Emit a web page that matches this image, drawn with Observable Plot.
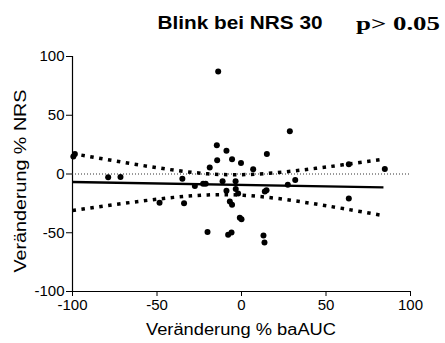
<!DOCTYPE html>
<html>
<head>
<meta charset="utf-8">
<script src="https://cdn.jsdelivr.net/npm/d3@7"></script>
<script src="https://cdn.jsdelivr.net/npm/@observablehq/plot@0.6"></script>
<style>
  html, body { margin: 0; padding: 0; background: #fff; }
  #chart { width: 445px; height: 343px; }
</style>
</head>
<body>
<div id="chart"></div>
<script>
// Scatter data: change in baAUC (%) vs change in NRS (%)
const xValues = [-99.5, -98.6, -78.9, -71.6, -48.5, -34.0, -35.0, -27.6, -22.7, -21.2,
  -20.1, -18.8, -14.6, -14.4, -13.8, -11.2, -8.9, -8.9, -7.9, -6.9,
  -5.9, -5.6, -5.6, -3.5, -3.4, -2.0, -1.0, 0.0, -0.3, 6.9,
  13.0, 13.6, 13.8, 14.8, 15.0, 27.4, 28.6, 31.8, 63.5, 63.5, 84.8];
const yValues = [15, 17, -2.8, -2.5, -24.5, -24.8, -4.1, -10.3, -8.2, -8.2,
  -49.3, 5.5, 24.5, 11.7, 87.2, -6.2, 19.7, -14.2, -51.8, -23.3,
  -49.8, 12.6, -26.2, -6.2, -12.8, -16.5, -37.2, -38.5, 9.4, 4.0,
  -52.4, -58.4, -14.8, -13.9, 17.1, -9.1, 36.4, -5.0, 8.2, -20.8, 4.3];

// Regression line
const fitX = [-100, 84];
const fitY = [-6.8, -11.4];

// 95% confidence band
const bandX = [-100, -80, -60, -40, -20, 0, 20, 40, 60, 84];
const bandUpper = [17.4, 12.4, 7.6, 3.3, 0.2, -0.6, 1.0, 4.1, 7.8, 12.5];
const bandLower = [-31.0, -27.0, -23.2, -19.9, -17.8, -18.0, -20.6, -24.7, -29.4, -35.4];

const tickValues = [-100, -50, 0, 50, 100];
const titleText = "Blink bei NRS 30";
const pText = "p> 0.05";
const xLabel = "Veränderung % baAUC";
const yLabel = "Veränderung % NRS";

const points = xValues.map((x, i) => ({x, y: yValues[i]}));
const fit = fitX.map((x, i) => ({x, y: fitY[i]}));
const upper = bandX.map((x, i) => ({x, y: bandUpper[i]}));
const lower = bandX.map((x, i) => ({x, y: bandLower[i]}));

const font = "'Liberation Sans', Arial, sans-serif";

const chart = Plot.plot({
  width: 445,
  height: 343,
  marginLeft: 72,
  marginRight: 35,
  marginTop: 56,
  marginBottom: 52,
  style: {fontFamily: font, fontSize: "15px", color: "#000", background: "#fff"},
  x: {domain: [-100, 100]},
  y: {domain: [-100, 100]},
  marks: [
    Plot.axisX({ticks: tickValues, tickSize: 5, tickPadding: 3, label: null, fontSize: 15, tickFormat: d => String(d)}),
    Plot.axisY({ticks: tickValues, tickSize: 6, tickPadding: 2, label: null, fontSize: 15, tickFormat: d => String(d)}),
    Plot.ruleY([-100], {stroke: "#000", strokeWidth: 1.2}),
    Plot.ruleX([-100], {stroke: "#000", strokeWidth: 1.2}),
    Plot.ruleY([0], {stroke: "#333", strokeWidth: 1, strokeDasharray: "1,2"}),
    Plot.line(upper, {x: "x", y: "y", stroke: "#000", strokeWidth: 3.5, strokeDasharray: "3.5,5.5", strokeLinecap: "butt", curve: "natural"}),
    Plot.line(lower, {x: "x", y: "y", stroke: "#000", strokeWidth: 3.5, strokeDasharray: "3.5,5.5", strokeLinecap: "butt", curve: "natural"}),
    Plot.line(fit, {x: "x", y: "y", stroke: "#000", strokeWidth: 2.3, strokeLinecap: "butt"}),
    Plot.dot(points, {x: "x", y: "y", r: 3, fill: "#000", stroke: "none"})
  ]
});

document.getElementById("chart").appendChild(chart);

const svg = d3.select(chart);
svg.append("text")
  .attr("x", 240).attr("y", 29)
  .attr("text-anchor", "middle")
  .attr("textLength", 165).attr("lengthAdjust", "spacingAndGlyphs")
  .style("font-family", font).style("font-weight", "bold").style("font-size", "18px")
  .attr("fill", "#000")
  .text(titleText);
svg.append("text")
  .attr("x", 398).attr("y", 30)
  .attr("text-anchor", "middle")
  .attr("textLength", 84).attr("lengthAdjust", "spacingAndGlyphs")
  .style("font-family", "'Liberation Serif', 'Times New Roman', serif").style("font-weight", "bold").style("font-size", "19px")
  .attr("fill", "#000")
  .text(pText);
svg.append("text")
  .attr("x", 241).attr("y", 335)
  .attr("text-anchor", "middle")
  .attr("textLength", 190).attr("lengthAdjust", "spacingAndGlyphs")
  .style("font-family", font).style("font-size", "16px")
  .attr("fill", "#000")
  .text(xLabel);
svg.append("text")
  .attr("transform", "translate(26,181) rotate(-90)")
  .attr("text-anchor", "middle")
  .attr("textLength", 183).attr("lengthAdjust", "spacingAndGlyphs")
  .style("font-family", font).style("font-size", "16px")
  .attr("fill", "#000")
  .text(yLabel);
</script>
</body>
</html>
